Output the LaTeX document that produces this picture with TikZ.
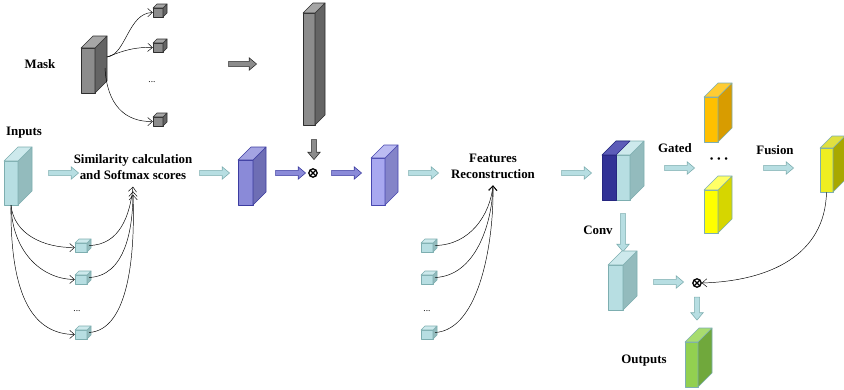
\documentclass[tikz,border=0pt]{standalone}
\usepackage{fontspec}
\setmainfont{Liberation Serif}
\usepackage{amsmath}
\usepackage{tikz}
\usetikzlibrary{shapes.arrows,arrows.meta,fit,calc}
\definecolor{tealfront}{HTML}{B7DEE2}
\definecolor{tealside}{HTML}{93BBBD}
\definecolor{tealtop}{HTML}{CDE9EC}
\definecolor{tealline}{HTML}{7DAEB0}
\definecolor{grayfront}{HTML}{8C8C8C}
\definecolor{grayside}{HTML}{646464}
\definecolor{graytop}{HTML}{A6A6A6}
\definecolor{grayline}{HTML}{2E2E2E}
\definecolor{purAfront}{HTML}{8A8AD8}
\definecolor{purAside}{HTML}{6E6EB4}
\definecolor{purAtop}{HTML}{A4A4E2}
\definecolor{purAline}{HTML}{3C3CA0}
\definecolor{purBfront}{HTML}{A8A8F0}
\definecolor{purBside}{HTML}{8484C8}
\definecolor{purBtop}{HTML}{BCBCF2}
\definecolor{purBline}{HTML}{4848B0}
\definecolor{navyfront}{HTML}{323296}
\definecolor{navytop}{HTML}{5C5CB8}
\definecolor{navyline}{HTML}{262680}
\definecolor{orngfront}{HTML}{FFC000}
\definecolor{orngside}{HTML}{D89C00}
\definecolor{orngtop}{HTML}{FFCC33}
\definecolor{orngline}{HTML}{7DAEB0}
\definecolor{yellfront}{HTML}{FFFF00}
\definecolor{yellside}{HTML}{D6D600}
\definecolor{yelltop}{HTML}{FFFF66}
\definecolor{yellline}{HTML}{7DAEB0}
\definecolor{olivefront}{HTML}{EEEE22}
\definecolor{oliveside}{HTML}{A8A800}
\definecolor{olivetop}{HTML}{E0E040}
\definecolor{oliveline}{HTML}{7DAEB0}
\definecolor{grnfront}{HTML}{92D050}
\definecolor{grnside}{HTML}{70A83C}
\definecolor{grntop}{HTML}{A8DC70}
\definecolor{grnline}{HTML}{7DAEB0}
\tikzset{
  cubeline/.style={line width=0.5pt, line join=round},
  fatarrow/.style={single arrow, draw=#1line, fill=#1front, line width=0.5pt,
                   inner sep=2pt, single arrow head extend=3pt,
                   single arrow tip angle=80, minimum height=0.9cm},
  curvearrow/.style={-{Straight Barb[length=4pt,width=7pt]}, thin, black},
  lbl/.style={font=\bfseries\fontsize{11}{13.5}\selectfont, inner sep=0pt},
  dots/.style={font=\fontsize{8}{8}\selectfont, inner sep=0pt},
  multnode/.style={circle, draw, line width=1.1pt, fill=white, inner sep=0pt,
                   minimum size=0.25cm,
                   path picture={\draw[line width=1.1pt]
                     (path picture bounding box.north west) -- (path picture bounding box.south east)
                     (path picture bounding box.north east) -- (path picture bounding box.south west);}},
}
% #1 name, #2 x, #3 y, #4 width, #5 height, #6 depth, #7 colour set
\newcommand{\cuboid}[7]{%
  \filldraw[cubeline, draw=#7line, fill=#7front] (#2,#3) rectangle ++(#4,#5);
  \filldraw[cubeline, draw=#7line, fill=#7side] (#2+#4,#3) -- ++(#6,-#6) -- ++(0,#5) -- ++(-#6,#6) -- cycle;
  \filldraw[cubeline, draw=#7line, fill=#7top] (#2,#3) -- ++(#6,-#6) -- ++(#4,0) -- ++(-#6,#6) -- cycle;
  \path (#2,#3) coordinate (#1-a) ++(#4,#5) coordinate (#1-b);
  \path (#2+#4+#6/2,#3+#5/2-#6/2) coordinate (#1-e);
  \node[fit=(#1-a)(#1-b), inner sep=0pt] (#1) {};
}

\begin{document}
\begin{tikzpicture}[x=0.03cm, y=-0.03cm]
  \useasboundingbox (0,0) rectangle (844,389);
  % mask branch
  \node[lbl] (masklbl) at (40,64) {Mask};
  \cuboid{mask}{81}{48}{14}{45}{12}{gray}
  \cuboid{mk1}{153}{8}{10}{9}{4}{gray}
  \cuboid{mk2}{153}{43}{10}{9}{4}{gray}
  \cuboid{mk3}{153}{117}{10}{9}{4}{gray}
  \node[dots] (mkdots) at (152,82) {...};
  \coordinate (mkout) at (107,57);
  \coordinate (mkout2) at (105,68);
  \draw[curvearrow] (mkout) .. controls (126,55) and (128,13) .. (mk1.west);
  \draw[curvearrow] (mkout) .. controls (125,50) and (135,47) .. (mk2.west);
  \draw[curvearrow] (mkout2) .. controls (107,105) and (125,122) .. (mk3.west);
  \node[fatarrow=gray, minimum height=0.84cm] (garr1) at (241,64) {};
  \cuboid{bar}{303}{13}{12}{112}{10}{gray}
  \node[fatarrow=gray, minimum height=0.6cm, rotate=-90] (garr2) at (314,148) {};
  % inputs and similarity
  \node[lbl] (inlbl) at (24,133) {Inputs};
  \cuboid{inp}{4}{161}{14}{44}{14}{teal}
  \cuboid{in1}{75}{243}{12}{9}{4}{teal}
  \cuboid{in2}{75}{275}{12}{9}{4}{teal}
  \cuboid{in3}{75}{330}{12}{9}{4}{teal}
  \node[dots] (indots) at (77,311) {...};
  \node[lbl, align=center] (sim) at (133,167) {Similarity calculation\\and Softmax scores};
  \draw[curvearrow] (inp.south) .. controls (14,235) and (45,248) .. (in1.west);
  \draw[curvearrow] (inp.south) .. controls (12,250) and (40,279) .. (in2.west);
  \draw[curvearrow] (inp.south) .. controls (10,300) and (35,334) .. (in3.west);
  \draw[curvearrow] (in1-e) .. controls (120,245) and (130,215) .. ([yshift=-6pt]sim.south);
  \draw[curvearrow] (in2-e) .. controls (125,276) and (133,230) .. ([yshift=-10pt]sim.south);
  \draw[curvearrow] (in3-e) .. controls (130,330) and (135,250) .. ([yshift=-13pt]sim.south);
  \node[fatarrow=teal] (tarr1) at (62,173) {};
  \node[fatarrow=teal] (tarr2) at (213,173) {};
  % attention with mask
  \cuboid{purA}{238}{160}{15}{45}{13}{purA}
  \node[fatarrow=purA] (parr1) at (289,173) {};
  \node[multnode] (mul1) at (313,173) {};
  \node[fatarrow=purA] (parr2) at (345,173) {};
  \cuboid{purB}{371}{158}{14}{47}{13}{purB}
  \node[fatarrow=teal] (tarr3) at (422,173) {};
  % features reconstruction
  \node[lbl, align=center] (feat) at (493,166) {Features\\Reconstruction};
  \cuboid{fr1}{421}{243}{12}{9}{4}{teal}
  \cuboid{fr2}{421}{275}{12}{9}{4}{teal}
  \cuboid{fr3}{421}{330}{12}{9}{4}{teal}
  \node[dots] (frdots) at (427,311) {...};
  \draw[curvearrow] (fr1-e) .. controls (470,245) and (490,215) .. ([yshift=-6pt]feat.south);
  \draw[curvearrow] (fr2-e) .. controls (475,276) and (492,225) .. ([yshift=-6pt]feat.south);
  \draw[curvearrow] (fr3-e) .. controls (480,330) and (494,240) .. ([yshift=-6pt]feat.south);
  \node[fatarrow=teal] (tarr4) at (575,173) {};
  % concatenation, gating and fusion
  \cuboid{cat}{602}{155}{28}{45}{14}{teal}
  \filldraw[cubeline, draw=navyline, fill=navyfront] (602,155) rectangle (616,200);
  \filldraw[cubeline, draw=navyline, fill=navytop] (602,155) -- ++(14,-14) -- ++(14,0) -- ++(-14,14) -- cycle;
  \node[lbl] (gatedlbl) at (675,148) {Gated};
  \node[fatarrow=teal] (tarr5) at (678,168) {};
  \cuboid{gate1}{704}{97}{14}{45}{14}{orng}
  \node[font=\fontsize{9}{9}\selectfont, inner sep=0pt] (gdots) at (719,160) {\textbullet\hspace{3pt}\textbullet\hspace{3pt}\textbullet};
  \cuboid{gate2}{704}{190}{14}{43}{14}{yell}
  \node[lbl] (fuselbl) at (775,150) {Fusion};
  \node[fatarrow=teal] (tarr6) at (777,168) {};
  \cuboid{fuse}{820}{148}{13}{44}{12}{olive}
  % conv branch and output
  \node[lbl] (convlbl) at (598,230) {Conv};
  \node[fatarrow=teal, minimum height=1.14cm, rotate=-90] (tarr7) at (623,231) {};
  \cuboid{conv}{608}{265}{15}{45}{14}{teal}
  \node[fatarrow=teal] (tarr8) at (667,282) {};
  \node[multnode] (mul2) at (697,283) {};
  \draw[curvearrow] (fuse.south) .. controls (825,255) and (770,281) .. (mul2.east);
  \node[fatarrow=teal, minimum height=0.69cm, rotate=-90] (tarr9) at (697,307) {};
  \cuboid{out}{685}{342}{13}{45}{14}{grn}
  \node[lbl] (outlbl) at (644,361) {Outputs};
\end{tikzpicture}
\end{document}
